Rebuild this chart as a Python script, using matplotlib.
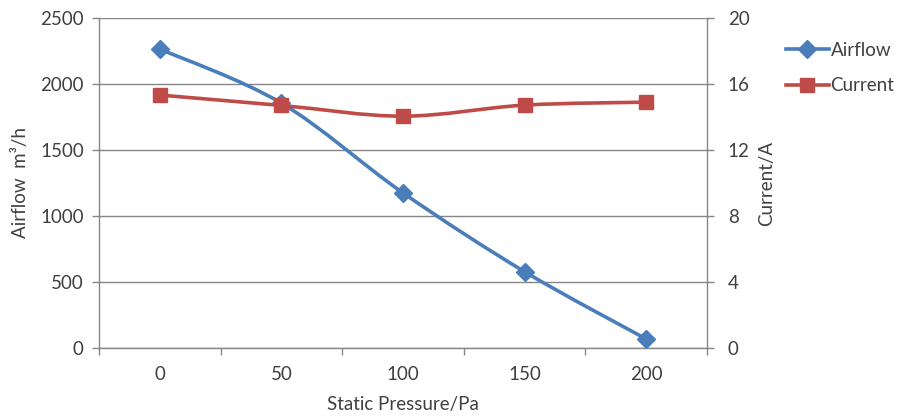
#!/usr/bin/env python3
# -*- coding: utf-8 -*-
"""
Airflow / Current vs static pressure (Excel-style smoothed line chart)
"""

import matplotlib
matplotlib.use('Agg')
import matplotlib.pyplot as plt
from matplotlib.path import Path
from matplotlib.patches import PathPatch
from matplotlib.lines import Line2D

plt.rcParams['font.family'] = ['Lato', 'DejaVu Sans']
plt.rcParams['font.size'] = 13.5

# data
pressure = ['0', '50', '100', '150', '200']
airflow = [2265, 1855, 1175, 578, 68]
current = [15.33, 14.7, 14.05, 14.72, 14.9]

BLUE = '#4A7EBB'
RED = '#BE4B48'
GRID = '#868686'
TEXT = '#404040'


def smooth_path(xs, ys):
    """Bezier path through the points, like Excel's smoothed line."""
    pts = list(zip(xs, ys))
    n = len(pts)
    verts = [pts[0]]
    codes = [Path.MOVETO]
    for i in range(n - 1):
        p0 = pts[i - 1] if i > 0 else pts[i]
        p1 = pts[i]
        p2 = pts[i + 1]
        p3 = pts[i + 2] if i + 2 < n else pts[i + 1]
        c1 = (p1[0] + (p2[0] - p0[0]) / 6, p1[1] + (p2[1] - p0[1]) / 6)
        c2 = (p2[0] - (p3[0] - p1[0]) / 6, p2[1] - (p3[1] - p1[1]) / 6)
        verts += [c1, c2, p2]
        codes += [Path.CURVE4] * 3
    return Path(verts, codes)


fig = plt.figure(figsize=(9.06, 4.16), dpi=100)
ax = fig.add_axes([99 / 906, 1 - 348 / 416, 608 / 906, 330 / 416])
ax2 = ax.twinx()

x = list(range(len(pressure)))

ax.add_patch(PathPatch(smooth_path(x, airflow), fill=False, edgecolor=BLUE,
                       linewidth=2.6, zorder=3, capstyle='round'))
ax.plot(x, airflow, linestyle='none', marker='D', markersize=9,
        color=BLUE, zorder=4)
ax2.add_patch(PathPatch(smooth_path(x, current), fill=False, edgecolor=RED,
                        linewidth=2.6, zorder=3, capstyle='round'))
ax2.plot(x, current, linestyle='none', marker='s', markersize=10,
         color=RED, zorder=4)

ax.set_xlim(-0.5, len(pressure) - 0.5)
ax.set_ylim(0, 2500)
ax2.set_ylim(0, 20)
ax.set_yticks(range(0, 2501, 500))
ax2.set_yticks(range(0, 21, 4))

ax.set_xticks(x)
ax.set_xticklabels(pressure)
ax.set_xticks([i - 0.5 for i in range(len(pressure) + 1)], minor=True)
ax.tick_params(axis='x', which='major', length=0, pad=13, colors=TEXT)
ax.tick_params(axis='x', which='minor', length=5, color=GRID, width=1)
ax.tick_params(axis='y', length=5, color=GRID, width=1, colors=TEXT, pad=6)
ax2.tick_params(axis='y', length=5, color=GRID, width=1, colors=TEXT, pad=10)
for t in ax.get_yticklines() + ax2.get_yticklines():
    t.set_color(GRID)
for t in ax.xaxis.get_minorticklines():
    t.set_color(GRID)

ax.grid(True, axis='y', color=GRID, linewidth=1)
ax.set_axisbelow(True)

for a in (ax, ax2):
    a.spines['top'].set_visible(False)
    for s in ('left', 'right', 'bottom'):
        a.spines[s].set_color(GRID)
        a.spines[s].set_linewidth(1)
ax.spines['right'].set_visible(False)
ax2.spines['left'].set_visible(False)
ax2.spines['bottom'].set_visible(False)

ax.set_xlabel('Static Pressure/Pa', color=TEXT, labelpad=9)
ax.set_ylabel('Airflow  m\u00b3/h', color=TEXT, labelpad=8)
ax2.set_ylabel('Current/A', color=TEXT, labelpad=6)

handles = [
    Line2D([], [], color=BLUE, linewidth=2.6, marker='D', markersize=9),
    Line2D([], [], color=RED, linewidth=2.6, marker='s', markersize=10),
]
fig.legend(handles, ['Airflow', 'Current'], loc='upper left',
           bbox_to_anchor=(778 / 906, 1 - 34 / 416), frameon=False,
           handlelength=2.3, handletextpad=0.1, labelspacing=1.0,
           labelcolor=TEXT, borderaxespad=0)

fig.savefig('out.png', dpi=100)
